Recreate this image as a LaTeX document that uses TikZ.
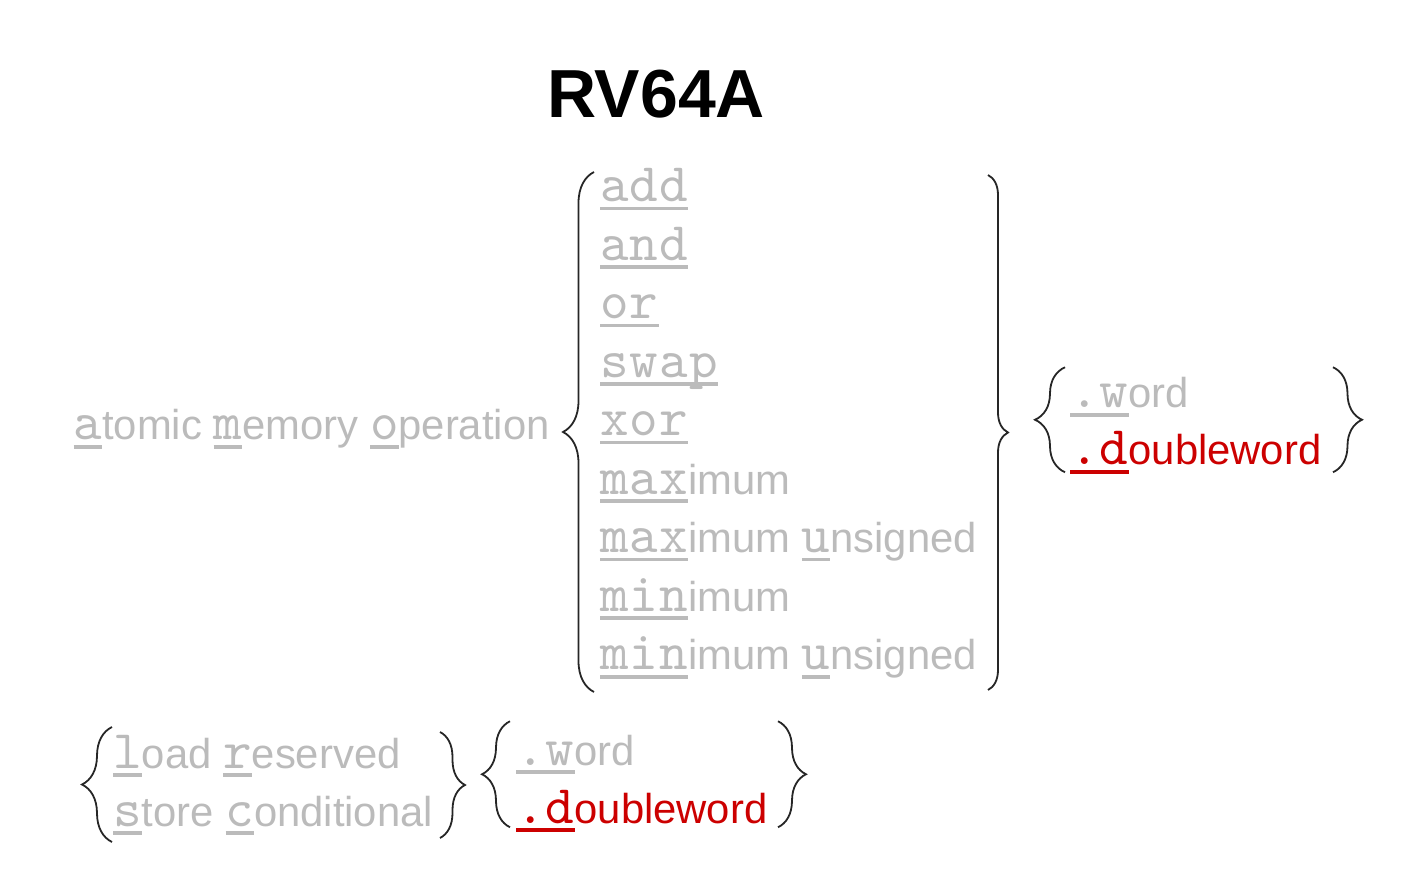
\documentclass[tikz,border=0pt]{standalone}
\usepackage{fontspec}
\setmainfont{Liberation Sans}
\newfontfamily\keyfont{lmmono10-regular.otf}[Scale=1.3, LetterSpace=2]
\usetikzlibrary{calc,decorations.pathreplacing}
\definecolor{sgray}{HTML}{BBBBBB}
\definecolor{sred}{HTML}{CC0000}
\newsavebox\keybox
\newcommand\ukey[1]{\sbox\keybox{\keyfont #1}\rlap{\rule[-4.4pt]{\wd\keybox}{1.8pt}}\usebox\keybox}

\begin{document}
\begin{tikzpicture}[x=0.5pt, y=-0.5pt,
    TXT/.style={inner sep=0pt, anchor=base west, text=sgray, font=\fontsize{20.9}{25}\selectfont},
    BRC/.style={decorate, decoration={brace, amplitude=#1}, draw=black!85, line width=0.9pt}
    ]
        \useasboundingbox (0,0) rectangle (1410,877);
        \node[inner sep=0pt, anchor=base, font=\fontsize{34}{40}\selectfont\bfseries] (title) at (656,118) {RV64A};
        \node[TXT, anchor=base east] (amo) at (550,440) {\ukey{a}tomic \ukey{m}emory \ukey{o}peration};
        \foreach \op [count=\i] in {{\ukey{add}}, {\ukey{and}}, {\ukey{or}}, {\ukey{swap}}, {\ukey{xor}},
            {\ukey{max}imum}, {\ukey{max}imum \ukey{u}nsigned}, {\ukey{min}imum}, {\ukey{min}imum \ukey{u}nsigned}}
            \node[TXT] (op\i) at (600,{201.7+58.5*(\i-1)}) {\op};
        \coordinate (opb) at (594,692);
        \coordinate (opt) at (594,172);
        \draw[BRC=15.5pt] (opb) -- (opt);
        \coordinate (opt2) at (988,175);
        \coordinate (opb2) at (988,690);
        \draw[BRC=10pt] (opt2) -- (opb2);
        % word size for the amo
        \node[TXT] (w1) at (1070,408) {\ukey{.w}ord};
        \node[TXT, text=sred] (d1) at (1070,465) {\ukey{.d}oubleword};
        \draw[BRC=15pt] ($(w1.west)+(-5,75)$) -- ($(w1.west)+(-5,-30)$);
        \draw[BRC=14.5pt] ($(w1.west)+(263,-30)$) -- ($(w1.west)+(263,75)$);
        % load reserved / store conditional
        \node[TXT] (lr) at (113,768) {\ukey{l}oad \ukey{r}eserved};
        \node[TXT] (sc) at (113,826) {\ukey{s}tore \ukey{c}onditional};
        \coordinate (lrt) at (112,727);
        \coordinate (lrb) at (112,842);
        \draw[BRC=15pt] (lrb) -- (lrt);
        \draw[BRC=12.5pt] ($(lrt)+(328,5)$) -- ($(lrb)+(328,-4)$);
        \node[TXT] (w2) at (516,765) {\ukey{.w}ord};
        \node[TXT, text=sred] (d2) at (516,823) {\ukey{.d}oubleword};
        \draw[BRC=14pt] ($(w2.west)+(-6,73)$) -- ($(w2.west)+(-6,-33)$);
        \draw[BRC=14pt] ($(w2.west)+(262,-33)$) -- ($(w2.west)+(262,73)$);
\end{tikzpicture}
\end{document}
